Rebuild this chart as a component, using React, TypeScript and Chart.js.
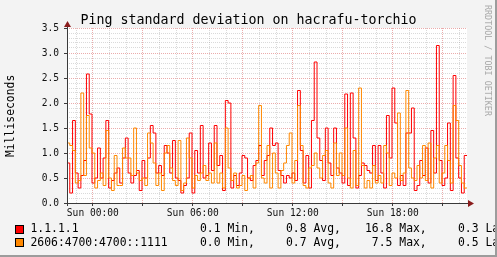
import React, { useEffect, useRef } from "react";
import { Chart, registerables } from "chart.js";

Chart.register(...registerables);

// time axis: hours relative to Sun 00:00, one value every 10 minutes
const START_HOUR = -1.55;
const STEP_MINUTES = 10;
const SPAN_HOURS = 24;

const SERIES_NAMES = ["1.1.1.1", "2606:4700:4700::1111"];
const SERIES_COLORS = ["#FF0000", "#FF8800"];

const red: number[] = [
  0.8, 0.2, 1.65, 0.6, 0.3, 0.55, 0.85, 2.58, 1.78, 0.4,
  0.5, 1.1, 0.5, 0.9, 1.65, 0.3, 0.45, 0.6, 0.7, 0.4,
  0.9, 1.3, 0.6, 0.4, 0.55, 0.65, 0.25, 0.85, 0.5, 0.9,
  1.55, 1.4, 0.6, 0.75, 0.55, 1.15, 1.0, 0.6, 1.25, 0.5,
  0.45, 0.2, 0.35, 0.5, 1.4, 0.2, 1.05, 0.6, 1.55, 0.5,
  0.55, 1.2, 0.65, 1.55, 0.75, 0.95, 0.25, 2.05, 2.0, 0.3,
  0.55, 0.35, 0.6, 0.95, 0.9, 0.5, 0.45, 0.75, 0.85, 1.15,
  0.55, 0.85, 0.95, 1.5, 1.15, 1.2, 0.65, 0.55, 0.4, 0.55,
  0.5, 0.6, 0.45, 2.25, 1.05, 0.4, 0.95, 0.3, 1.65, 2.82,
  1.3, 0.85, 0.45, 1.5, 0.8, 0.55, 1.5, 0.7, 0.6, 0.4,
  2.18, 0.35, 2.2, 1.3, 0.3, 0.55, 0.8, 0.75, 0.65, 0.6,
  1.15, 0.45, 1.15, 0.6, 0.3, 1.75, 0.9, 2.3, 1.6, 0.35,
  0.55, 0.35, 1.4, 1.4, 1.9, 0.25, 0.35, 0.85, 0.55, 1.1,
  0.4, 1.45, 0.6, 3.15, 0.85, 0.35, 0.5, 1.6, 0.25, 2.55,
  0.9, 0.5, 0.2, 0.95,
];

const orange: number[] = [
  1.2, 1.15, 1.05, 0.4, 0.45, 2.2, 0.55, 1.75, 1.1, 1.0,
  0.3, 0.45, 0.6, 0.35, 1.45, 0.5, 0.25, 0.95, 0.35, 0.35,
  1.1, 0.9, 0.9, 0.55, 1.5, 0.6, 0.45, 0.5, 0.35, 1.4,
  1.2, 0.8, 0.35, 0.6, 0.25, 1.0, 1.15, 0.7, 0.45, 0.35,
  1.25, 0.25, 0.4, 1.3, 0.9, 0.3, 0.55, 0.45, 0.6, 0.75,
  0.45, 0.6, 0.4, 1.2, 0.4, 0.6, 0.3, 1.5, 0.7, 0.45,
  0.6, 0.3, 0.35, 0.55, 0.25, 0.5, 0.55, 0.3, 0.8, 1.95,
  0.5, 0.4, 1.15, 0.3, 1.0, 0.6, 0.3, 0.65, 0.8, 1.15,
  1.4, 0.4, 0.85, 1.95, 1.15, 0.35, 0.3, 0.7, 0.75, 1.0,
  0.7, 0.5, 0.95, 1.05, 0.4, 0.3, 1.2, 0.55, 1.0, 0.55,
  1.5, 0.5, 0.3, 1.05, 0.35, 2.3, 0.75, 0.3, 0.45, 0.3,
  0.75, 0.4, 0.55, 0.4, 1.15, 1.0, 0.35, 0.6, 0.5, 1.8,
  0.45, 0.6, 2.25, 0.7, 0.5, 0.45, 0.75, 0.5, 1.15, 0.45,
  1.2, 0.3, 0.9, 1.15, 0.4, 0.6, 1.15, 0.85, 0.4, 1.95,
  1.65, 0.75, 0.4, 0.3,
];

const X_LABEL_HOURS = [0, 6, 12, 18];
const X_LABELS = ["Sun 00:00", "Sun 06:00", "Sun 12:00", "Sun 18:00"];
const Y_LABEL_VALUES = [0, 0.5, 1, 1.5, 2, 2.5, 3, 3.5];
const Y_LABELS = ["0.0", "0.5", "1.0", "1.5", "2.0", "2.5", "3.0", "3.5"];
const Y_MAX = 3.5;

const LEGEND_STATS = [
  ["0.1 Min,", "0.8 Avg,", "16.8 Max,", "0.3 Last"],
  ["0.0 Min,", "0.7 Avg,", " 7.5 Max,", "0.5 Last"],
];

const MONO = '"DejaVu Sans Mono", monospace';
const MINOR_GRID = "rgba(140,140,140,0.32)";
const MAJOR_GRID = "rgba(215,90,90,0.5)";
const AXIS = "#3a3a3a";
const ARROW = "#8a1c1c";

function toPoints(values: number[]) {
  const pts = values.map((v, i) => ({ x: START_HOUR + (i * STEP_MINUTES) / 60, y: v }));
  pts.push({ x: START_HOUR + SPAN_HOURS, y: values[values.length - 1] });
  return pts;
}

const arrowPlugin = {
  id: "rrdAxes",
  afterDraw(chart: any) {
    const { ctx, chartArea } = chart;
    const l = chartArea.left, b = chartArea.bottom, r = chartArea.right, t = chartArea.top;
    ctx.save();
    ctx.strokeStyle = AXIS;
    ctx.lineWidth = 1;
    ctx.beginPath();
    ctx.moveTo(l - 2, Math.round(b) + 0.5);
    ctx.lineTo(r + 3, Math.round(b) + 0.5);
    ctx.moveTo(Math.round(l) + 0.5, b + 3);
    ctx.lineTo(Math.round(l) + 0.5, t - 4);
    ctx.stroke();
    ctx.fillStyle = ARROW;
    ctx.beginPath();
    const by = Math.round(b) + 0.5;
    ctx.moveTo(r + 1, by - 3.5);
    ctx.lineTo(r + 7, by);
    ctx.lineTo(r + 1, by + 3.5);
    ctx.closePath();
    ctx.fill();
    const lx = Math.round(l) + 0.5;
    ctx.beginPath();
    ctx.moveTo(lx - 3.5, t - 1);
    ctx.lineTo(lx, t - 7);
    ctx.lineTo(lx + 3.5, t - 1);
    ctx.closePath();
    ctx.fill();
    ctx.restore();
  },
};

export default function App() {
  const ref = useRef<HTMLCanvasElement>(null);

  useEffect(() => {
    document.body.style.margin = "0";
    const canvas = ref.current!;
    const isMajorHour = (h: number) => ((Math.round(h) % 3) + 3) % 3 === 0;
    const isMajorY = (v: number) => Math.round(v * 10) % 5 === 0;
    const chart = new Chart(canvas, {
      type: "line",
      data: {
        datasets: [
          {
            label: SERIES_NAMES[0],
            data: toPoints(red),
            borderColor: SERIES_COLORS[0],
            borderWidth: 1,
            pointRadius: 0,
            stepped: true,
            fill: false,
            order: 1,
          },
          {
            label: SERIES_NAMES[1],
            data: toPoints(orange),
            borderColor: SERIES_COLORS[1],
            borderWidth: 1,
            pointRadius: 0,
            stepped: true,
            fill: false,
            order: 0,
          },
        ],
      },
      options: {
        animation: false,
        responsive: false,
        devicePixelRatio: 1,
        layout: { padding: { left: 0, right: 30, top: 28, bottom: 0 } },
        plugins: { legend: { display: false }, tooltip: { enabled: false }, title: { display: false } },
        scales: {
          x: {
            type: "linear",
            min: START_HOUR,
            max: START_HOUR + SPAN_HOURS,
            afterBuildTicks(scale: any) {
              const ticks = [];
              for (let h = Math.ceil(START_HOUR); h <= START_HOUR + SPAN_HOURS; h++) ticks.push({ value: h });
              scale.ticks = ticks;
            },
            afterFit(scale: any) {
              scale.height = 54;
            },
            grid: {
              color: (c: any) => (isMajorHour(c.tick.value) ? MAJOR_GRID : MINOR_GRID),
              lineWidth: 1,
              drawTicks: true,
              tickLength: 3,
              tickColor: (c: any) => (isMajorHour(c.tick.value) ? AXIS : "rgba(0,0,0,0)"),
            },
            border: { display: false, dash: [1, 1] },
            ticks: {
              autoSkip: false,
              maxRotation: 0,
              padding: 2,
              color: "#111",
              font: { family: MONO, size: 9.6 },
              callback: (v: any) => {
                const idx = X_LABEL_HOURS.indexOf(Math.round(Number(v)));
                return idx >= 0 ? X_LABELS[idx] : "";
              },
            },
          },
          y: {
            type: "linear",
            min: 0,
            max: Y_MAX,
            afterBuildTicks(scale: any) {
              const ticks = [];
              for (let i = 0; i <= Math.round(Y_MAX * 10); i++) ticks.push({ value: i / 10 });
              scale.ticks = ticks;
            },
            afterFit(scale: any) {
              scale.width = 67;
            },
            grid: {
              color: (c: any) => (isMajorY(c.tick.value) ? MAJOR_GRID : MINOR_GRID),
              lineWidth: 1,
              drawTicks: true,
              tickLength: 3,
              tickColor: (c: any) => (isMajorY(c.tick.value) ? AXIS : "rgba(0,0,0,0)"),
            },
            border: { display: false, dash: [1, 1] },
            ticks: {
              autoSkip: false,
              padding: 5,
              color: "#111",
              font: { family: MONO, size: 9.6 },
              callback: (v: any) => {
                const n = Number(v);
                const idx = Y_LABEL_VALUES.findIndex((y) => Math.abs(y - n) < 1e-6);
                return idx >= 0 ? Y_LABELS[idx] : "";
              },
            },
          },
        },
      },
      plugins: [
        {
          id: "canvasBg",
          beforeDraw(c: any) {
            const { ctx, chartArea } = c;
            ctx.save();
            ctx.fillStyle = "#ffffff";
            ctx.fillRect(chartArea.left, chartArea.top, chartArea.right - chartArea.left, chartArea.bottom - chartArea.top);
            ctx.restore();
          },
        },
        arrowPlugin,
      ],
    } as any);
    return () => chart.destroy();
  }, []);

  const text: React.CSSProperties = {
    position: "absolute",
    fontFamily: MONO,
    whiteSpace: "pre",
    color: "#000",
    lineHeight: 1,
  };

  return (
    <div
      style={{
        position: "absolute",
        left: 0,
        top: 0,
        width: 497,
        height: 257,
        background: "#F3F3F3",
        overflow: "hidden",
      }}
    >
      <canvas ref={ref} width={497} height={257} style={{ position: "absolute", left: 0, top: 0, width: 497, height: 257 }} />
      <div style={{ ...text, left: 0, width: 497, top: 12.7, fontSize: 13.3, textAlign: "center" }}>
        Ping standard deviation on hacrafu-torchio
      </div>
      <div
        style={{
          ...text,
          left: 5,
          top: 157,
          fontSize: 11.4,
          transformOrigin: "0 0",
          transform: "rotate(-90deg)",
        }}
      >
        Milliseconds
      </div>
      <div
        style={{
          ...text,
          left: 492,
          top: 5,
          fontSize: 8.4,
          color: "#a8a8a8",
          transformOrigin: "0 0",
          transform: "rotate(90deg)",
        }}
      >
        RRDTOOL / TOBI OETIKER
      </div>
      {SERIES_NAMES.map((name, r) => {
        const top = r === 0 ? 223.4 : 237;
        const boxTop = r === 0 ? 225 : 238;
        return (
          <React.Fragment key={name}>
            <div
              style={{
                position: "absolute",
                left: 15,
                top: boxTop,
                width: 9,
                height: 9,
                boxSizing: "border-box",
                border: "1px solid #000",
                background: SERIES_COLORS[r],
              }}
            />
            <div style={{ ...text, left: 30.5, top, fontSize: 11.4 }}>{name}</div>
            <div style={{ ...text, left: 200, top, fontSize: 11.4 }}>{LEGEND_STATS[r][0]}</div>
            <div style={{ ...text, left: 286, top, fontSize: 11.4 }}>{LEGEND_STATS[r][1]}</div>
            <div style={{ ...text, left: 365, top, fontSize: 11.4 }}>{LEGEND_STATS[r][2]}</div>
            <div style={{ ...text, left: 458, top, fontSize: 11.4 }}>{LEGEND_STATS[r][3]}</div>
          </React.Fragment>
        );
      })}
      <div
        style={{
          position: "absolute",
          right: 0,
          top: 0,
          width: 2,
          height: 257,
          background: "#9c9c9c",
        }}
      />
      <div
        style={{
          position: "absolute",
          left: 0,
          bottom: 0,
          width: 497,
          height: 2,
          background: "#9c9c9c",
        }}
      />
    </div>
  );
}
